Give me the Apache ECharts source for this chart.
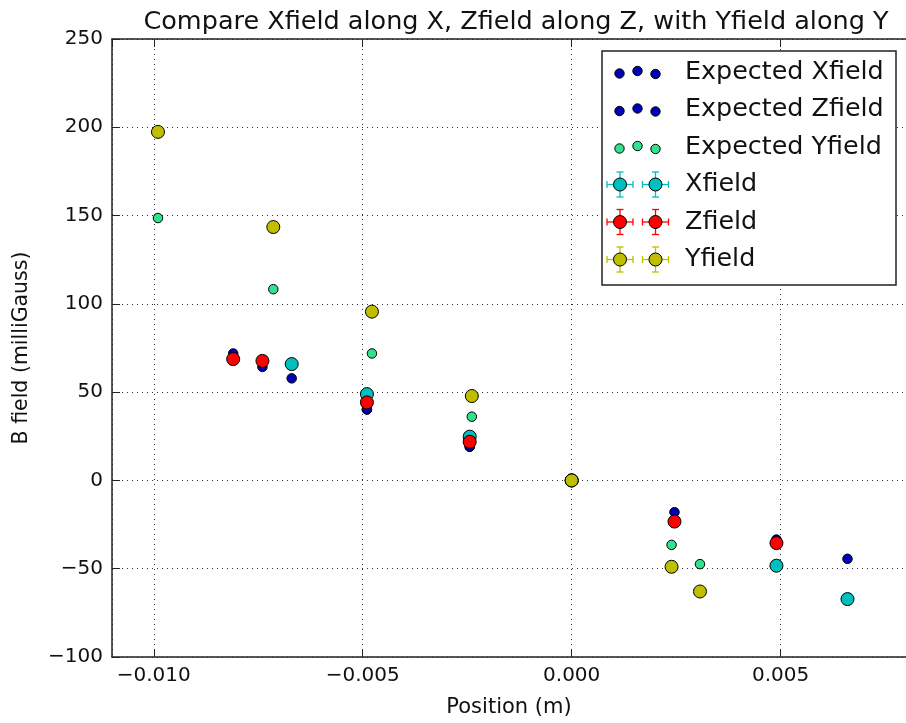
<!DOCTYPE html>
<html>
<head>
<meta charset="utf-8">
<script src="https://cdn.jsdelivr.net/npm/echarts@6/dist/echarts.min.js"></script>
<style>
  html, body { margin: 0; padding: 0; background: #fff; }
  #chart { width: 906px; height: 723px; }
</style>
</head>
<body>
<div id="chart"></div>
<script>
// Positions (m) and fields (milliGauss)
const xfieldPos = [-0.0067, -0.0049, -0.00244, 0, 0.0049, 0.0066];
const xfieldMeasured = [65.9, 48.9, 24.8, 0, -48.3, -67.2];
const xfieldExpected = [57.8, 40.2, 19.1, 0, -33.6, -44.4];

const zfieldPos = [-0.0081, -0.0074, -0.0049, -0.00244, 0, 0.00246, 0.0049];
const zfieldMeasured = [68.7, 67.7, 44.2, 21.9, 0, -23.3, -35.5];
const zfieldExpected = [71.9, 64.3, 40.2, 19.1, 0, -18.0, -33.6];

const yfieldPos = [-0.0099, -0.00714, -0.00478, -0.00239, 0, 0.00239, 0.00307];
const yfieldMeasured = [197.4, 143.5, 95.6, 47.8, 0, -48.9, -62.9];
const yfieldExpected = [148.6, 108.3, 71.9, 36.1, 0, -36.5, -47.4];

const legendLabels = ['Expected Xfield', 'Expected Zfield', 'Expected Yfield', 'Xfield', 'Zfield', 'Yfield'];

const C_BLUE = '#0000b4';
const C_GREEN = '#30e28c';
const C_CYAN = '#00bfbf';
const C_RED = '#ff0000';
const C_YELLOW = '#bfbf00';
const FONT = 'DejaVu Sans';

function pairs(xs, ys) { return xs.map((x, i) => [x, ys[i]]); }
function minus(s) { return String(s).replace('-', '\u2212'); }

const chart = echarts.init(document.getElementById('chart'), null, { renderer: 'canvas' });

const gridLine = { show: true, lineStyle: { color: '#333', width: 1, type: [1, 4] } };
const axisLine = { show: true, onZero: false, lineStyle: { color: '#222', width: 1.5 } };
const tick = { show: true, inside: true, length: 8, lineStyle: { color: '#222', width: 1 } };

function expectedSeries(name, xs, ys, color) {
  return {
    name, type: 'scatter', data: pairs(xs, ys), symbolSize: 9.5,
    itemStyle: { color, borderColor: '#000', borderWidth: 1, opacity: 1 },
    emphasis: { disabled: true }, silent: true
  };
}
function measuredSeries(name, xs, ys, color) {
  return {
    name, type: 'scatter', data: pairs(xs, ys), symbolSize: 13,
    itemStyle: { color, borderColor: '#000', borderWidth: 1, opacity: 1 },
    emphasis: { disabled: true }, silent: true
  };
}

// Legend drawn as graphics: box, icons and labels
const LEG = { x: 602, y: 51, w: 294, h: 234, rowY0: 72, rowDy: 37.5, textX: 685 };
const legendGraphics = [{
  type: 'rect', shape: { x: LEG.x, y: LEG.y, width: LEG.w, height: LEG.h },
  style: { fill: '#fff', stroke: '#222', lineWidth: 1.5 }, z: 100
}];
const dotColors = [C_BLUE, C_BLUE, C_GREEN];
const dotX = [619.5, 637.5, 655.5];
const dotDy = [1.5, -1, 2];
const markColors = [C_CYAN, C_RED, C_YELLOW];
legendLabels.forEach((label, i) => {
  const cy = LEG.rowY0 + i * LEG.rowDy;
  if (i < 3) {
    dotX.forEach((dx, k) => {
      legendGraphics.push({
        type: 'circle', shape: { cx: dx, cy: cy + dotDy[k], r: 4.7 },
        style: { fill: dotColors[i], stroke: '#000', lineWidth: 1 }, z: 101
      });
    });
  } else {
    const col = markColors[i - 3];
    [620, 655.5].forEach(cx => {
      const segs = [
        [cx - 13, cy, cx + 13, cy], [cx, cy - 12.5, cx, cy + 12.5],
        [cx - 13, cy - 3.5, cx - 13, cy + 3.5], [cx + 13, cy - 3.5, cx + 13, cy + 3.5],
        [cx - 3.5, cy - 12.5, cx + 3.5, cy - 12.5], [cx - 3.5, cy + 12.5, cx + 3.5, cy + 12.5]
      ];
      segs.forEach(s => legendGraphics.push({
        type: 'line', shape: { x1: s[0], y1: s[1], x2: s[2], y2: s[3] },
        style: { stroke: col, lineWidth: 1.3 }, z: 101
      }));
      legendGraphics.push({
        type: 'circle', shape: { cx, cy, r: 6.5 },
        style: { fill: col, stroke: '#000', lineWidth: 1 }, z: 102
      });
    });
  }
  legendGraphics.push({
    type: 'text', x: LEG.textX, y: cy,
    style: { text: label, fill: '#111', font: '25.4px "' + FONT + '"', textVerticalAlign: 'middle', textAlign: 'left' },
    z: 103
  });
});

const option = {
  animation: false,
  backgroundColor: '#fff',
  textStyle: { fontFamily: FONT },
  title: {
    text: 'Compare Xfield along X, Zfield along Z, with Yfield along Y',
    left: 511, top: 4, textAlign: 'center',
    textStyle: { fontFamily: FONT, fontSize: 25.5, fontWeight: 'normal', color: '#111' }
  },
  grid: { left: 112, top: 39, width: 796, height: 619 },
  xAxis: [{
    type: 'value', min: -0.011, max: 0.008, splitNumber: 4, minInterval: 0.005, maxInterval: 0.005,
    position: 'bottom',
    name: 'Position (m)', nameLocation: 'middle', nameGap: 40,
    nameTextStyle: { fontFamily: FONT, fontSize: 21, color: '#111' },
    axisLine, axisTick: tick, splitLine: gridLine,
    axisLabel: {
      showMinLabel: false, showMaxLabel: false, margin: 9,
      fontFamily: FONT, fontSize: 20, color: '#111',
      formatter: v => minus(v.toFixed(3))
    }
  }, {
    type: 'value', min: -0.011, max: 0.008, splitNumber: 4, minInterval: 0.005, maxInterval: 0.005,
    position: 'top', axisLine, axisTick: tick, splitLine: { show: false }, axisLabel: { show: false }
  }],
  yAxis: [{
    type: 'value', min: -100, max: 250, interval: 50,
    name: 'B field (milliGauss)', nameLocation: 'middle', nameGap: 80, nameRotate: 90,
    nameTextStyle: { fontFamily: FONT, fontSize: 20.5, color: '#111' },
    axisLine, axisTick: tick, splitLine: gridLine,
    axisLabel: { margin: 9, fontFamily: FONT, fontSize: 20, color: '#111', formatter: v => minus(v) }
  }],
  series: [
    expectedSeries('Expected Xfield', xfieldPos, xfieldExpected, C_BLUE),
    expectedSeries('Expected Zfield', zfieldPos, zfieldExpected, C_BLUE),
    expectedSeries('Expected Yfield', yfieldPos, yfieldExpected, C_GREEN),
    measuredSeries('Xfield', xfieldPos, xfieldMeasured, C_CYAN),
    measuredSeries('Zfield', zfieldPos, zfieldMeasured, C_RED),
    measuredSeries('Yfield', yfieldPos, yfieldMeasured, C_YELLOW)
  ],
  graphic: legendGraphics
};

chart.setOption(option);
</script>
</body>
</html>
